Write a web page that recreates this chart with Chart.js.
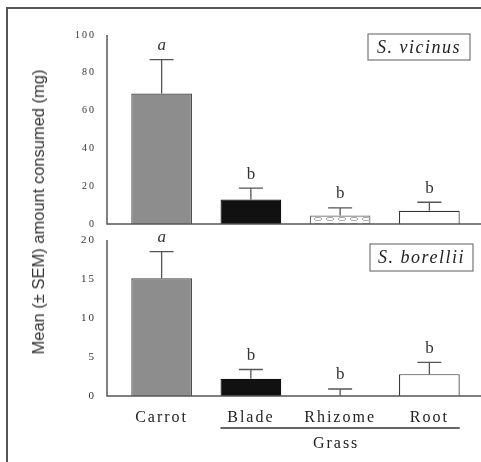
<!DOCTYPE html>
<html>
<head>
<meta charset="utf-8">
<script src="https://cdn.jsdelivr.net/npm/chart.js@4"></script>
<style>
  body { margin: 0; background: #fff; }
  #wrap { position: relative; width: 481px; height: 462px; overflow: hidden; }
  #frame { position: absolute; left: 6px; top: 7px; width: 480px; height: 460px;
           border-left: 2px solid #555; border-top: 2px solid #555; }
  .cv { position: absolute; left: 0; }
  #ytitle { position: absolute; left: 39px; top: 212px; white-space: nowrap;
            font: 17px "Liberation Sans Narrow", "Liberation Sans", Arial, sans-serif; color: #333;
            transform-origin: 0 0; }
</style>
</head>
<body>
<div id="wrap">
  <div id="frame"></div>
  <div class="cv" style="top:0;width:481px;height:232px"><canvas id="topChart"></canvas></div>
  <div class="cv" style="top:230px;width:481px;height:232px"><canvas id="bottomChart"></canvas></div>
  <div id="ytitle">Mean (± SEM) amount consumed (mg)</div>
</div>
<script>
const categories = ['Carrot', 'Blade', 'Rhizome', 'Root'];
const letters = ['a', 'b', 'b', 'b'];

const vicinusMean = [69, 13, 4.5, 7];
const vicinusSem = [18, 6, 4, 4.5];
const vicinusTicks = [0, 20, 40, 60, 80, 100];

const borelliiMean = [15.1, 2.2, 0, 2.8];
const borelliiSem = [3.4, 1.2, 0.9, 1.5];
const borelliiTicks = [0, 5, 10, 15, 20];

const serif = '"Liberation Serif", "DejaVu Serif", serif';

// rotate and squeeze the shared y title so it spans ~285px
(function() {
    const el = document.getElementById('ytitle');
    const w = el.getBoundingClientRect().width;
    const k = 285 / w;
    el.style.transform = 'rotate(-90deg) translate(-' + (w * k / 2) + 'px, -10px) scaleX(' + k + ')';
})();

function rhizomePattern() {
    const c = document.createElement('canvas');
    c.width = 12; c.height = 6;
    const g = c.getContext('2d');
    g.fillStyle = '#fff';
    g.fillRect(0, 0, 12, 6);
    g.strokeStyle = '#aaa';
    g.lineWidth = 1;
    g.beginPath();
    g.ellipse(6, 3, 4, 1.6, 0, 0, Math.PI * 2);
    g.stroke();
    return g.createPattern(c, 'repeat');
}

const fills = ['#8d8d8d', '#111', rhizomePattern(), '#fff'];
const borders = ['#444', '#111', '#666', '#333'];

const AXIS_GAP = 10;

const panelPlugin = {
    id: 'panel',
    beforeDraw(chart) {
        chart.ctx.letterSpacing = '2px';
    },
    afterDatasetsDraw(chart, args, opts) {
        const ctx = chart.ctx;
        const area = chart.chartArea;
        const y = chart.scales.y;
        const meta = chart.getDatasetMeta(0);
        ctx.save();
        ctx.letterSpacing = '0px';
        // axis lines, set back from the chart area
        ctx.strokeStyle = '#555';
        ctx.lineWidth = 1.5;
        ctx.beginPath();
        ctx.moveTo(area.left - AXIS_GAP, y.getPixelForValue(y.max));
        ctx.lineTo(area.left - AXIS_GAP, area.bottom);
        ctx.lineTo(chart.width, area.bottom);
        ctx.stroke();
        // error bars and letters
        opts.mean.forEach((m, i) => {
            const cx = meta.data[i].x;
            const y0 = y.getPixelForValue(m);
            const y1 = y.getPixelForValue(m + opts.sem[i]);
            ctx.strokeStyle = '#555';
            ctx.lineWidth = 1.3;
            ctx.beginPath();
            ctx.moveTo(cx, y0);
            ctx.lineTo(cx, y1);
            ctx.moveTo(cx - 12, y1);
            ctx.lineTo(cx + 12, y1);
            ctx.stroke();
            ctx.fillStyle = '#333';
            ctx.textAlign = 'center';
            ctx.textBaseline = 'middle';
            ctx.font = (letters[i] === 'a' ? 'italic ' : '') + '17px ' + serif;
            ctx.fillText(letters[i], cx, y1 - 14);
        });
        // species box
        const b = opts.box;
        ctx.strokeStyle = '#777';
        ctx.lineWidth = 1.2;
        ctx.strokeRect(b[0], b[1], b[2], b[3]);
        ctx.font = 'italic 18px ' + serif;
        ctx.letterSpacing = '1.5px';
        ctx.fillStyle = '#222';
        ctx.textAlign = 'center';
        ctx.textBaseline = 'middle';
        ctx.fillText(opts.species, b[0] + b[2] / 2, b[1] + b[3] / 2 + 1);
        // grass bracket
        if (opts.grass) {
            const half = meta.data[1].width / 2;
            const xl = meta.data[1].x - half;
            const xr = meta.data[3].x + half;
            const ly = area.bottom + 32;
            ctx.strokeStyle = '#333';
            ctx.lineWidth = 1.3;
            ctx.beginPath();
            ctx.moveTo(xl, ly);
            ctx.lineTo(xr, ly);
            ctx.stroke();
            ctx.font = '16px ' + serif;
            ctx.letterSpacing = '2px';
            ctx.fillStyle = '#222';
            ctx.fillText('Grass', meta.data[2].x - 4, ly + 16);
        }
        ctx.restore();
    }
};

function makeChart(id, mean, ticks, opts) {
    return new Chart(document.getElementById(id), {
        type: 'bar',
        data: {
            labels: categories,
            datasets: [{
                data: mean,
                backgroundColor: fills,
                borderColor: borders,
                borderWidth: 1.2,
                barPercentage: 0.68,
                categoryPercentage: 1
            }]
        },
        options: {
            responsive: true,
            maintainAspectRatio: false,
            animation: false,
            layout: { padding: { top: opts.padTop, right: 7, bottom: opts.padBottom, left: 0 } },
            plugins: { legend: { display: false }, tooltip: { enabled: false }, panel: opts },
            scales: {
                x: {
                    grid: { display: false, drawTicks: false },
                    border: { display: false },
                    ticks: {
                        display: opts.grass,
                        padding: 12,
                        color: '#222',
                        font: { family: serif, size: 16 }
                    },
                    afterFit(scale) { scale.height = opts.xHeight; }
                },
                y: {
                    min: 0,
                    max: ticks[ticks.length - 1],
                    grid: { display: false, drawTicks: false },
                    border: { display: false },
                    afterBuildTicks(scale) { scale.ticks = ticks.map(v => ({ value: v })); },
                    ticks: {
                        padding: 21,
                        color: '#333',
                        font: { family: serif, size: opts.tickSize }
                    },
                    afterFit(scale) {
                        scale.width = 117;
                        // tick padding would otherwise push the chart area in
                        scale.paddingTop = 0;
                        scale.paddingBottom = 0;
                    }
                }
            }
        },
        plugins: [panelPlugin]
    });
}

makeChart('topChart', vicinusMean, vicinusTicks, {
    mean: vicinusMean, sem: vicinusSem, species: 'S. vicinus',
    box: [368, 34, 102, 26], grass: false,
    padTop: 35, padBottom: 8, xHeight: 0, tickSize: 10
});

makeChart('bottomChart', borelliiMean, borelliiTicks, {
    mean: borelliiMean, sem: borelliiSem, species: 'S. borellii',
    box: [370, 14, 103, 27], grass: true,
    padTop: 10, padBottom: 0, xHeight: 66, tickSize: 11
});
</script>
</body>
</html>
